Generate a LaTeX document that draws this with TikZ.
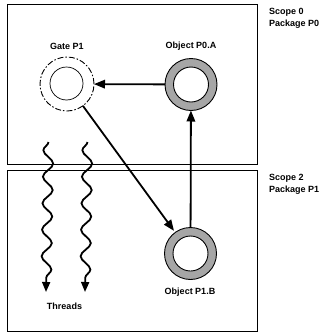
\documentclass[tikz,border=0pt]{standalone}
\usepackage{fontspec}
\setmainfont{Liberation Sans}
\usetikzlibrary{arrows.meta,decorations.pathmorphing}
\definecolor{ringgray}{RGB}{166,166,166}
\begin{document}
\begin{tikzpicture}[x=1pt,y=-1pt,
  scopebox/.style={draw, line width=0.9pt, minimum width=249.5pt, minimum height=160pt, inner sep=0pt, outer sep=0pt},
  lbl/.style={font=\bfseries\fontsize{9}{11}\selectfont, inner sep=0pt},
  objring/.style={circle, draw, line width=0.9pt, fill=ringgray, minimum size=52pt, inner sep=0pt, outer sep=0pt},
  hole/.style={circle, draw, line width=0.9pt, fill=white, minimum size=35pt, inner sep=0pt},
  gateouter/.style={circle, draw, line width=0.9pt, dash pattern=on 6pt off 2pt on 1.5pt off 2pt, minimum size=54pt, inner sep=0pt, outer sep=0pt},
  gateinner/.style={circle, draw, line width=0.7pt, minimum size=33pt, inner sep=0pt},
  conn/.style={line width=1.8pt, -{Triangle[length=11pt,width=8.5pt]}},
  thread/.style={line width=1.8pt, -{Triangle[length=10pt,width=8pt]}, decorate, decoration={snake, segment length=26.5pt, amplitude=5pt, post length=12pt, mirror}},
]
\useasboundingbox (0,0) rectangle (321,335);
% scopes
\node[scopebox] (scope0) at (132.25,84) {};
\node[scopebox, minimum height=161pt] (scope2) at (132.25,250.5) {};
\node[lbl, anchor=west] (s0a) at (269,12.5) {Scope 0};
\node[lbl, anchor=west] (s0b) at (269,24.5) {Package P0};
\node[lbl, anchor=west] (s2a) at (269,178.5) {Scope 2};
\node[lbl, anchor=west] (s2b) at (269,190.5) {Package P1};
% gate
\node[gateouter] (gate) at (67,84) {};
\node[gateinner] (gatein) at (66.5,83.5) {};
\node[lbl] (gatelbl) at (67,46) {Gate P1};
% objects
\node[objring] (p0a) at (191,84.5) {};
\node[hole] (p0ahole) at (191,84.5) {};
\node[lbl] (p0albl) at (191,46) {Object P0.A};
\node[objring] (p1b) at (190.5,253.5) {};
\node[hole] (p1bhole) at (190.5,253.5) {};
\node[lbl] (p1blbl) at (190,292) {Object P1.B};
% connectors
\draw[conn] (p0a) -- (gate);
\draw[conn] (p1b) -- (p0a);
\draw[conn, shorten >=2pt] (gate) -- (p1b);
% threads
\coordinate (t1s) at (48.5,142);
\coordinate (t1e) at (46,292);
\coordinate (t2s) at (87.5,142);
\coordinate (t2e) at (85,292);
\draw[thread] (t1s) -- (t1e);
\draw[thread] (t2s) -- (t2e);
\node[lbl] (thr) at (64.5,306) {Threads};
\end{tikzpicture}
\end{document}
